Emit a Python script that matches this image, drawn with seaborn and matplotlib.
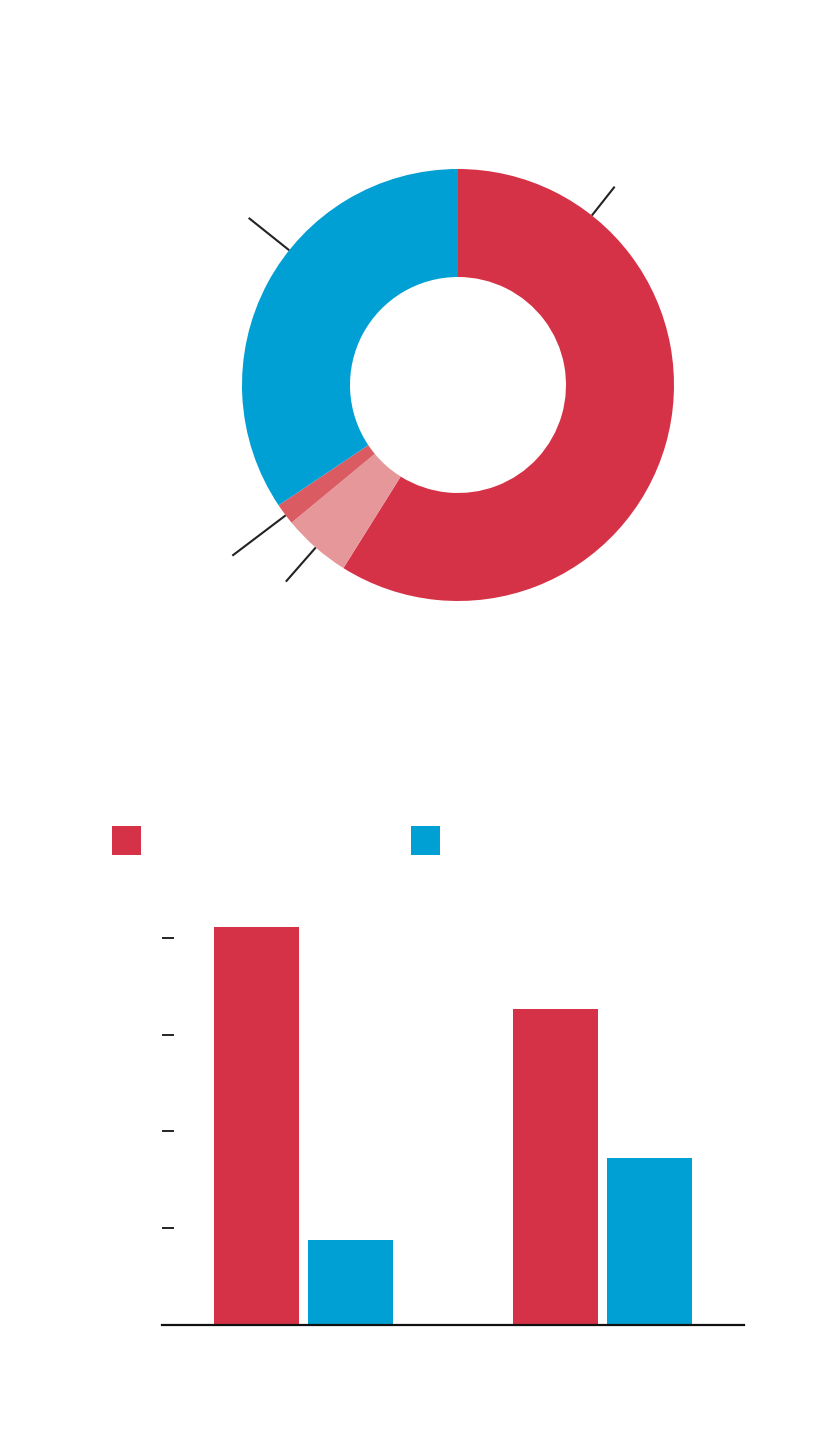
import numpy as np
import pandas as pd
import matplotlib
matplotlib.use("Agg")
import matplotlib.pyplot as plt
from matplotlib.patches import Rectangle
import seaborn as sns

# ---- data ----
pie_values = [58.9, 5.1, 1.6, 34.4]
pie_colors = ["#D63247", "#E5979A", "#DB5B63", "#009FD4"]

bar_groups = ["g1", "g1", "g2", "g2"]
bar_series = ["s1", "s2", "s1", "s2"]
bar_values = [41.1, 8.8, 32.7, 17.3]
series_colors = {"s1": "#D63247", "s2": "#009FD4"}
y_ticks = [0, 10, 20, 30, 40]

sns.set_theme(style="white")
plt.rcParams['font.family'] = ['DejaVu Sans']

W, H = 830, 1442
fig = plt.figure(figsize=(W / 100, H / 100), dpi=100)

def fbox(l, t, r, b):
    return [l / W, 1 - b / H, (r - l) / W, (b - t) / H]

# ---- donut ----
axp = fig.add_axes(fbox(242, 169, 674, 601))
axp.pie(pie_values, colors=pie_colors, startangle=90, counterclock=False,
        radius=1.0, wedgeprops=dict(width=0.5, linewidth=0))
axp.set_xlim(-1, 1)
axp.set_ylim(-1, 1)
axp.set_aspect("equal")
axp.axis("off")

# leader lines (angle in degrees, outer radius)
leaders = [(51.7, 1.17), (141.4, 1.24), (-142.9, 1.31), (-131.2, 1.21)]
for ang, r1 in leaders:
    a = np.deg2rad(ang)
    axp.plot([np.cos(a) * 1.0, np.cos(a) * r1], [np.sin(a) * 1.0, np.sin(a) * r1],
             color="#222222", lw=1.5, clip_on=False, solid_capstyle="butt")

# ---- bar chart ----
axb = fig.add_axes(fbox(162, 918.6, 744, 1325))
df = pd.DataFrame({"group": bar_groups, "series": bar_series, "value": bar_values})
sns.barplot(data=df, x="group", y="value", hue="series", palette=series_colors,
            width=0.628, gap=0.095, legend=False, ax=axb, saturation=1,
            linewidth=0)
axb.set_xlim(-0.473, 1.473)
axb.set_ylim(0, 42)
axb.set_yticks(y_ticks)
axb.set_yticklabels([])
axb.set_xticks([])
axb.set_xlabel("")
axb.set_ylabel("")
for s in ["top", "right", "left"]:
    axb.spines[s].set_visible(False)
axb.spines["bottom"].set_color("#111111")
axb.spines["bottom"].set_linewidth(1.6)
axb.tick_params(axis="y", direction="in", length=8.6, width=1.3, color="#111111", left=True)

# ---- legend swatches ----
for x0, key in [(112, "s1"), (411, "s2")]:
    fig.patches.append(Rectangle((x0 / W, 1 - 855 / H), 29 / W, 29 / H,
                                 transform=fig.transFigure, facecolor=series_colors[key],
                                 edgecolor="none"))

fig.savefig("out.png", dpi=100, facecolor="white")
